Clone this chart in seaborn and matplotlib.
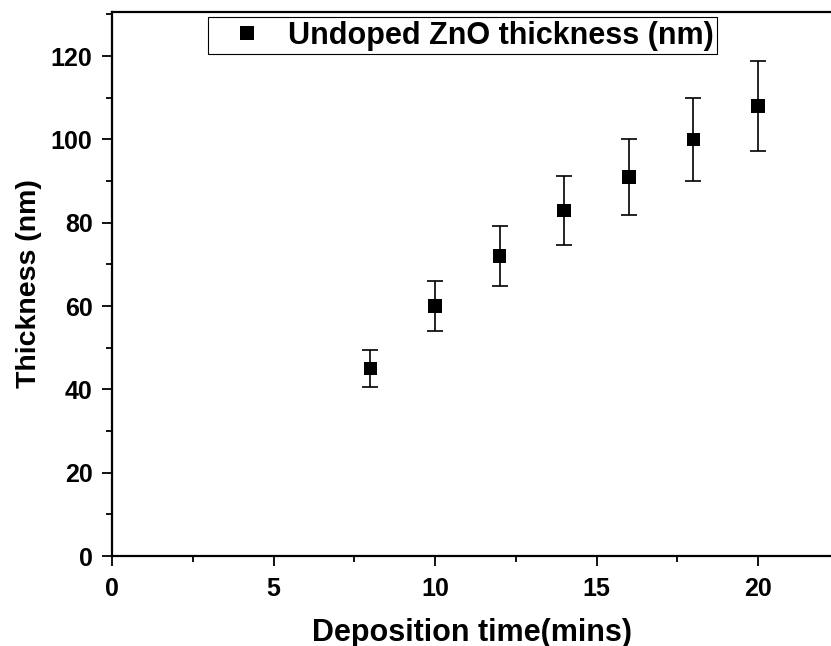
import matplotlib
matplotlib.use("Agg")
import matplotlib.pyplot as plt
import seaborn as sns
import pandas as pd
from matplotlib.ticker import MultipleLocator, FixedLocator

time_min = [8, 10, 12, 14, 16, 18, 20]
thickness_nm = [45, 60, 72, 83, 91, 100, 108]
error_nm = [4.5, 6.0, 7.2, 8.3, 9.1, 10.0, 10.8]
series_label = "Undoped ZnO thickness (nm)"

df = pd.DataFrame({"time": time_min, "thickness": thickness_nm, "err": error_nm,
                   "series": series_label})

sns.set_theme(style="white")
plt.rcParams['font.family'] = ['Liberation Sans', 'DejaVu Sans']
plt.rcParams['font.weight'] = 'bold'
plt.rcParams['text.color'] = 'black'
plt.rcParams['axes.labelcolor'] = 'black'
plt.rcParams['xtick.color'] = 'black'
plt.rcParams['ytick.color'] = 'black'

fig = plt.figure(figsize=(8.31, 6.46), dpi=100)
ax = fig.add_axes([112/831, 90/646, 1 - 112/831, (556-12)/646])

ax.errorbar(df["time"], df["thickness"], yerr=df["err"], fmt="none",
            ecolor="black", elinewidth=1.2, capsize=6, capthick=1.2, zorder=2)
sns.scatterplot(data=df, x="time", y="thickness", hue="series", palette=["black"],
                marker="s", s=95, edgecolor="black", linewidth=0, ax=ax, zorder=3)

ax.set_xlim(0, 22.26)
ax.set_ylim(0, 130.6)
ax.xaxis.set_major_locator(FixedLocator([0, 5, 10, 15, 20]))
ax.xaxis.set_minor_locator(FixedLocator([2.5, 7.5, 12.5, 17.5]))
ax.yaxis.set_major_locator(MultipleLocator(20))
ax.yaxis.set_minor_locator(MultipleLocator(10))

for side in ["left", "bottom", "top"]:
    ax.spines[side].set_visible(True)
    ax.spines[side].set_color("black")
    ax.spines[side].set_linewidth(1.6)
ax.spines["right"].set_visible(False)

ax.tick_params(axis="both", which="major", direction="out", length=7, width=1.3,
               color="black", labelcolor="black", labelsize=18)
ax.tick_params(axis="x", which="major", pad=8)
ax.tick_params(axis="y", which="major", pad=7)
ax.tick_params(axis="both", which="minor", direction="out", length=4, width=1.3,
               color="black")
ax.tick_params(top=False, right=False)
ax.tick_params(axis="x", which="both", bottom=True)
ax.tick_params(axis="y", which="both", left=True)
for lab in ax.get_xticklabels() + ax.get_yticklabels():
    lab.set_fontweight("bold")

ax.set_xlabel("Deposition time(mins)", fontsize=22, fontweight="bold",
              color="black", labelpad=12)
ax.set_ylabel("Thickness (nm)", fontsize=20.5, fontweight="bold",
              color="black", labelpad=6)

handles, labels = ax.get_legend_handles_labels()
leg = ax.legend(handles, labels, loc="upper left", bbox_to_anchor=(0.1335, 0.991),
                frameon=True, fancybox=False, edgecolor="black", framealpha=1,
                prop={"weight": "bold", "size": 22}, handletextpad=0.2,
                handlelength=2.3, borderpad=0.12, borderaxespad=0,
                markerscale=1.0)
leg.get_frame().set_linewidth(0.8)
for t in leg.get_texts():
    t.set_color("black")

fig.savefig("out.png", dpi=100)
